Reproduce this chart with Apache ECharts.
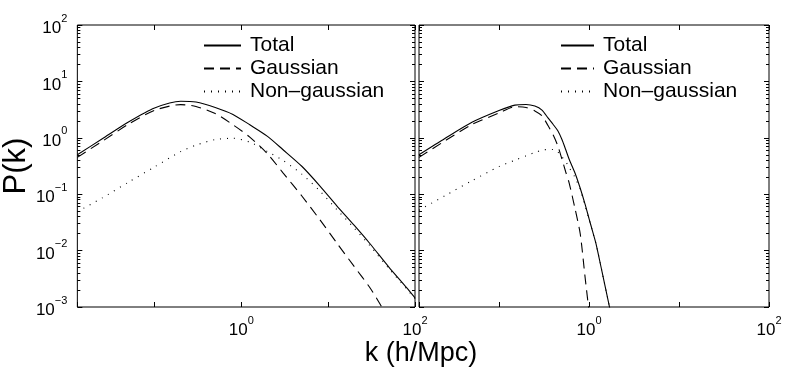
<!DOCTYPE html>
<html>
<head>
<meta charset="utf-8">
<script src="https://cdn.jsdelivr.net/npm/echarts@6/dist/echarts.min.js"></script>
<style>
  html, body { margin: 0; padding: 0; background: #fff; }
  #chart { width: 789px; height: 369px; }
</style>
</head>
<body>
<div id="chart"></div>
<script>
// left panel
const kLeft = [0.0129, 0.025, 0.05, 0.1, 0.2, 0.3, 0.5, 0.8, 1.25, 2, 3, 5, 8, 12.5, 20, 30, 50, 80, 100]
const totalLeft = [0.50, 0.96, 1.9, 3.37, 4.45, 4.3, 3.45, 2.6, 1.7, 1.06, 0.62, 0.31, 0.141, 0.063, 0.0279, 0.0135, 0.0051, 0.0022, 0.00145]
const nongaussLeft = [0.049, 0.086, 0.163, 0.305, 0.57, 0.74, 0.93, 0.98, 0.84, 0.57, 0.40, 0.225, 0.115, 0.054, 0.025, 0.0124, 0.0048, 0.0021, 0.0014]
const kGaussLeft = [0.0129, 0.025, 0.05, 0.1, 0.2, 0.3, 0.5, 0.8, 1.25, 2, 3, 5, 8, 12.5, 20, 30, 40, 45]
const gaussLeft = [0.45, 0.87, 1.74, 3.07, 3.88, 3.6, 2.7, 1.7, 1.03, 0.52, 0.242, 0.092, 0.0355, 0.0138, 0.0052, 0.00224, 0.0011, 0.0008]

// right panel
const kRight = [0.0129, 0.025, 0.05, 0.1, 0.15, 0.2, 0.25, 0.3, 0.35, 0.4, 0.45, 0.5, 0.55, 0.6, 0.7, 0.8, 0.9, 1.0, 1.1, 1.2, 1.4, 1.7]
const totalRight = [0.50, 0.97, 1.88, 3.04, 3.8, 3.9, 3.65, 3.1, 2.25, 1.72, 1.33, 0.93, 0.62, 0.42, 0.235, 0.126, 0.068, 0.037, 0.0214, 0.0129, 0.0041, 0.00095]
const nongaussRight = [0.052, 0.094, 0.173, 0.31, 0.40, 0.48, 0.55, 0.6, 0.62, 0.62, 0.56, 0.46, 0.38, 0.30, 0.197, 0.12, 0.064, 0.036, 0.021, 0.0128, 0.0041, 0.00095]
const kGaussRight = [0.0129, 0.025, 0.05, 0.1, 0.15, 0.2, 0.25, 0.3, 0.35, 0.4, 0.45, 0.5, 0.55, 0.6, 0.7, 0.8, 0.9, 1.0]
const gaussRight = [0.45, 0.88, 1.72, 2.75, 3.56, 3.45, 3.0, 2.45, 1.65, 1.12, 0.72, 0.42, 0.25, 0.16, 0.055, 0.0195, 0.0036, 0.00083]

const names = ['Total', 'Gaussian', 'Non–gaussian']
const xMin = 0.0129, xMax = 100
const yMin = 0.001, yMax = 100
const font = 'Liberation Sans, Arial, Helvetica, sans-serif'

const chart = echarts.init(document.getElementById('chart'))

const expOf = v => Math.round(Math.log10(v))
const isDecade = v => Math.abs(Math.log10(v) - expOf(v)) < 1e-6
const supLabel = e => '{b|10}{s|' + String(e).replace('-', '−') + '}'
const rich = {
  b: { fontSize: 17, lineHeight: 24, verticalAlign: 'bottom', color: '#000', fontFamily: font },
  s: { fontSize: 11, lineHeight: 12, verticalAlign: 'top', color: '#000', fontFamily: font }
}

const xAxisFor = (gridIndex, pos, labels) => ({
  type: 'log', gridIndex, position: pos, min: xMin, max: xMax,
  axisLine: { show: false },
  axisTick: { show: true, inside: true, length: 5, lineStyle: { color: '#000' } },
  splitLine: { show: false },
  axisLabel: {
    show: labels, margin: 8, rich,
    formatter: v => (isDecade(v) && expOf(v) % 2 === 0 && v > 0.5) ? supLabel(expOf(v)) : ''
  }
})
const yAxisFor = (gridIndex, pos, labels) => ({
  type: 'log', gridIndex, position: pos, min: yMin, max: yMax,
  axisLine: { show: false },
  axisTick: { show: true, inside: true, length: 5, lineStyle: { color: '#000' } },
  minorTick: { show: true, splitNumber: 9, length: 3, lineStyle: { color: '#000' } },
  splitLine: { show: false },
  axisLabel: {
    show: labels, margin: 10, rich,
    formatter: v => isDecade(v) ? supLabel(expOf(v)) : ''
  }
})

const lineSeries = (name, ks, vals, ax, type) => ({
  name, type: 'line', xAxisIndex: ax, yAxisIndex: ax,
  data: ks.map((k, i) => [k, vals[i]]),
  showSymbol: false, symbol: 'none', smooth: 0.25, clip: true,
  lineStyle: { color: '#000', width: 1.1, type },
  itemStyle: { color: '#000' }
})

const dash = [10, 6]
const dots = [1, 6]

const legendFor = (left, w) => ({
  left, top: 35, orient: 'vertical', padding: 0, itemGap: 2,
  itemWidth: w, itemHeight: 12,
  itemStyle: { opacity: 0 },
  textStyle: { fontSize: 21, fontFamily: font, color: '#000', padding: [0, 0, 0, 4] },
  data: names
})

const option = {
  backgroundColor: '#fff',
  animation: false,
  grid: [
    { left: 64, top: 25, width: 351, height: 282, show: true, borderColor: '#000', borderWidth: 1 },
    { left: 419, top: 25, width: 350, height: 282, show: true, borderColor: '#000', borderWidth: 1 }
  ],
  xAxis: [
    xAxisFor(0, 'bottom', true),
    xAxisFor(1, 'bottom', true),
    xAxisFor(0, 'top', false),
    xAxisFor(1, 'top', false)
  ],
  yAxis: [
    Object.assign(yAxisFor(0, 'left', true), {
      name: 'P(k)', nameLocation: 'middle', nameGap: 40, nameRotate: 90,
      nameTextStyle: { fontSize: 31, color: '#000', fontFamily: font }
    }),
    yAxisFor(1, 'left', false),
    yAxisFor(0, 'right', false),
    yAxisFor(1, 'right', false)
  ],
  title: {
    text: 'k (h/Mpc)', left: 416, top: 335, textAlign: 'center',
    textStyle: { fontSize: 27, fontWeight: 'normal', color: '#000', fontFamily: font }
  },
  legend: [legendFor(203, 37), legendFor(560, 33)],
  series: [
    lineSeries(names[0], kLeft, totalLeft, 0, 'solid'),
    lineSeries(names[1], kGaussLeft, gaussLeft, 0, dash),
    lineSeries(names[2], kLeft, nongaussLeft, 0, dots),
    lineSeries(names[0], kRight, totalRight, 1, 'solid'),
    lineSeries(names[1], kGaussRight, gaussRight, 1, dash),
    lineSeries(names[2], kRight, nongaussRight, 1, dots)
  ]
}

chart.setOption(option)
</script>
</body>
</html>
